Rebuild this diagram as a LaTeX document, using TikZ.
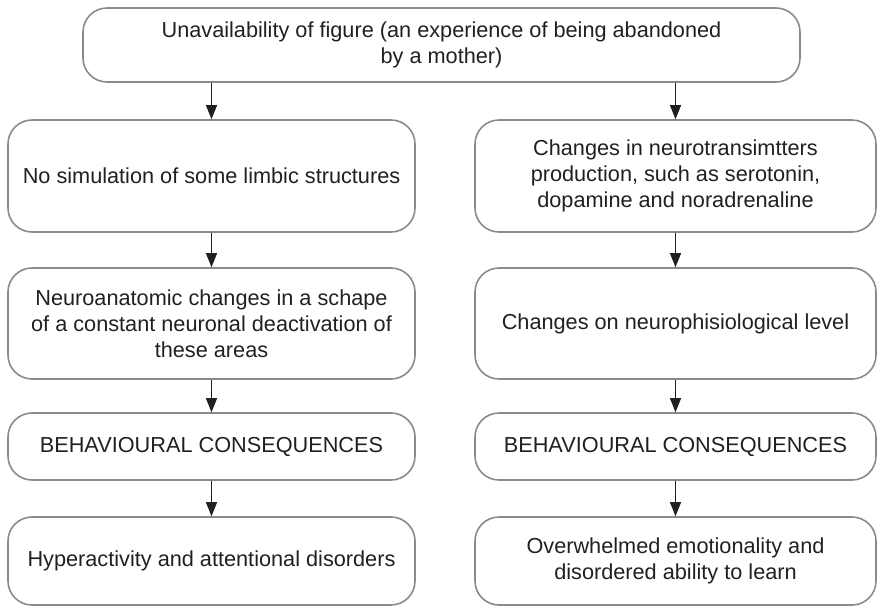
\documentclass[tikz,border=0pt]{standalone}
\usepackage{fontspec}
\setmainfont{Liberation Sans}
\usepackage{tikz}
\usetikzlibrary{arrows.meta, positioning}

\definecolor{boxgray}{HTML}{8A8A8A}
\definecolor{inkdark}{HTML}{231F20}

\begin{document}
\begin{tikzpicture}[
    x=0.5pt, y=-0.5pt,
    block/.style={rectangle, rounded corners=12pt, draw=boxgray, line width=0.8pt, align=center,
        text=inkdark, font=\fontsize{10.85}{13}\selectfont, inner sep=0pt},
    leftblock/.style={block, minimum width=203.5pt},
    rightblock/.style={block, minimum width=200.5pt},
    arrow/.style={-{Triangle[length=7pt, width=5.5pt]}, draw=inkdark, fill=inkdark, line width=0.5pt}
]
\useasboundingbox (0,0) rectangle (877,606);

% Block - Top
\node[block, minimum width=358.5pt, minimum height=37pt] (unavail) at (441.5, 45)
    {Unavailability of figure (an experience of being abandoned\\by a mother)};

% Blocks - Left column
\node[leftblock, minimum height=56pt] (limbic) at (211.5, 176) {No simulation of some limbic structures};
\node[leftblock, minimum height=55.5pt] (neuroanat) at (211.5, 323.5)
    {Neuroanatomic changes in a schape\\of a constant neuronal deactivation of\\these areas};
\node[leftblock, minimum height=33.5pt] (behavleft) at (211.5, 446.5) {BEHAVIOURAL CONSEQUENCES};
\node[leftblock, minimum height=44pt] (hyper) at (211.5, 561) {Hyperactivity and attentional disorders};

% Blocks - Right column
\node[rightblock, minimum height=56pt] (transmit) at (675.5, 176)
    {Changes in neurotransimtters\\production, such as serotonin,\\dopamine and noradrenaline};
\node[rightblock, minimum height=55.5pt] (physio) at (675.5, 323.5) {Changes on neurophisiological level};
\node[rightblock, minimum height=33.5pt] (behavright) at (675.5, 446.5) {BEHAVIOURAL CONSEQUENCES};
\node[rightblock, minimum height=44pt] (emotion) at (675.5, 561)
    {Overwhelmed emotionality and\\disordered ability to learn};

% Arrows - from top block
\draw[arrow] (limbic.north |- unavail.south) -- (limbic.north);
\draw[arrow] (transmit.north |- unavail.south) -- (transmit.north);

% Arrows - Left column
\draw[arrow] (limbic) -- (neuroanat);
\draw[arrow] (neuroanat) -- (behavleft);
\draw[arrow] (behavleft) -- (hyper);

% Arrows - Right column
\draw[arrow] (transmit) -- (physio);
\draw[arrow] (physio) -- (behavright);
\draw[arrow] (behavright) -- (emotion);

\end{tikzpicture}
\end{document}
